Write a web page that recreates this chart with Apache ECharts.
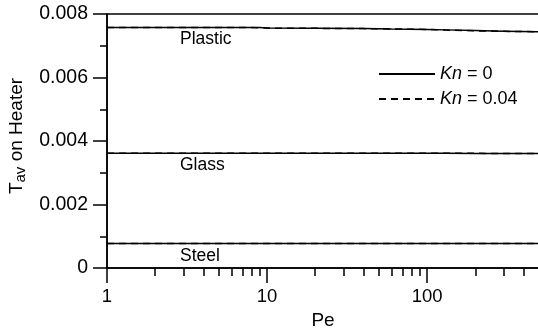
<!DOCTYPE html>
<html>
<head>
<meta charset="utf-8">
<script src="https://cdn.jsdelivr.net/npm/echarts@6/dist/echarts.min.js"></script>
<style>html,body{margin:0;padding:0;background:#fff}#c{width:538px;height:331px}</style>
</head>
<body>
<div id="c"></div>
<script>
const peValues = [1, 2, 5, 9, 10, 20, 40, 60, 100, 130, 200, 300, 500];
const plasticKn0 = [0.007577, 0.007577, 0.007577, 0.007575, 0.00756, 0.00755, 0.00754, 0.007525, 0.00751, 0.0075, 0.00748, 0.00746, 0.00744];
const plasticKn004 = [0.007577, 0.007577, 0.007577, 0.00757, 0.007556, 0.007548, 0.00754, 0.00753, 0.007515, 0.007495, 0.00747, 0.007455, 0.00744];
const glassKn0 = [0.003612, 0.003612, 0.003612, 0.003612, 0.003612, 0.003612, 0.003612, 0.003612, 0.003612, 0.003612, 0.003605, 0.003605, 0.003605];
const glassKn004 = [0.003612, 0.003612, 0.003612, 0.003612, 0.003612, 0.003612, 0.003612, 0.003612, 0.003612, 0.003612, 0.003612, 0.003605, 0.003605];
const steelKn0 = [0.00077, 0.00077, 0.00077, 0.00077, 0.00077, 0.00077, 0.00077, 0.00077, 0.00077, 0.00077, 0.00077, 0.00077, 0.00077];
const steelKn004 = [0.00077, 0.00077, 0.00077, 0.00077, 0.00077, 0.00077, 0.00077, 0.00077, 0.00077, 0.00077, 0.00077, 0.00077, 0.00077];
const xMajorTicks = [1, 10, 100];
const xMinorTicks = [2,3,4,5,6,7,8,9,20,30,40,50,60,70,80,90,200,300,400,500];
const materialLabels = ['Plastic', 'Glass', 'Steel'];

const font = 'Liberation Sans, Arial, sans-serif';
const pair = (ys) => peValues.map((x, i) => [x, ys[i]]);
function mk(name, ys, dashed) {
  return {
    name: name, type: 'line', xAxisIndex: 0, data: pair(ys), symbol: 'none', silent: true,
    z: dashed ? 2 : 3,
    lineStyle: { color: '#000', width: 1.5, type: dashed ? [7, 5] : 'solid' },
    itemStyle: { color: '#000' }
  };
}
const chart = echarts.init(document.getElementById('c'), null, { renderer: 'canvas' });
chart.setOption({
  animation: false,
  backgroundColor: '#fff',
  grid: { left: 107, top: 14, width: 432, height: 254, show: true, borderColor: '#000', borderWidth: 1.5,
    containLabel: false, outerBoundsMode: 'none' },
  xAxis: [{
    type: 'log', logBase: 10, min: 1, max: 500, position: 'bottom',
    name: 'Pe', nameLocation: 'middle', nameGap: 43,
    nameTextStyle: { fontFamily: font, fontSize: 19, color: '#000' },
    axisLine: { show: true, onZero: false, lineStyle: { color: '#000', width: 1.5 } },
    axisTick: { show: true, inside: false, length: 15, customValues: xMajorTicks, lineStyle: { color: '#000', width: 1.5 } },
    axisLabel: { show: true, customValues: xMajorTicks, margin: 19, fontFamily: font, fontSize: 18.5, color: '#000' },
    splitLine: { show: false }, minorTick: { show: false }
  }, {
    type: 'log', logBase: 10, min: 1, max: 500, position: 'bottom',
    axisLine: { show: false, onZero: false },
    axisTick: { show: true, inside: false, length: 8, customValues: xMinorTicks, lineStyle: { color: '#000', width: 1.5 } },
    axisLabel: { show: false }, splitLine: { show: false }
  }],
  yAxis: {
    type: 'value', min: 0, max: 0.008, interval: 0.002,
    name: '{t|T}{s|av}{t| on Heater}', nameLocation: 'middle', nameGap: 77, nameRotate: 90,
    nameTextStyle: { fontFamily: font, color: '#000', padding: [0, 0, 0, 10],
      rich: { t: { fontFamily: font, fontSize: 19, color: '#000' }, s: { fontFamily: font, fontSize: 15, color: '#000', verticalAlign: 'bottom', padding: [9, 0, 0, 0] } } },
    axisLine: { show: true, lineStyle: { color: '#000', width: 1.5 } },
    axisTick: { show: true, inside: false, length: 14, lineStyle: { color: '#000', width: 1.5 } },
    minorTick: { show: true, splitNumber: 2, length: 7, lineStyle: { color: '#000', width: 1.5 } },
    axisLabel: { margin: 19, fontFamily: font, fontSize: 19.5, color: '#000',
      formatter: v => v === 0 ? '0' : v.toFixed(3) },
    splitLine: { show: false }
  },
  legend: {
    orient: 'vertical', left: 373, top: 60, itemWidth: 56, itemHeight: 10, itemGap: 7,
    data: ['Kn = 0', 'Kn = 0.04'],
    formatter: n => n.replace('Kn', '{i|Kn}'),
    itemStyle: { opacity: 0 },
    textStyle: { fontFamily: font, fontSize: 18, color: '#000', padding: [0, 0, 0, 0],
      rich: { i: { fontFamily: font, fontSize: 18, fontStyle: 'italic', color: '#000' } } },
    selectedMode: false
  },
  graphic: [
    { type: 'text', left: 180, top: 30, style: { text: materialLabels[0], font: '17.5px ' + font, fill: '#000' } },
    { type: 'text', left: 180, top: 156, style: { text: materialLabels[1], font: '17.5px ' + font, fill: '#000' } },
    { type: 'text', left: 180, top: 247, style: { text: materialLabels[2], font: '17.5px ' + font, fill: '#000' } }
  ],
  series: [
    mk('Kn = 0', plasticKn0, false), mk('Kn = 0.04', plasticKn004, true),
    mk('Kn = 0', glassKn0, false), mk('Kn = 0.04', glassKn004, true),
    mk('Kn = 0', steelKn0, false), mk('Kn = 0.04', steelKn004, true)
  ]
});
</script>
</body>
</html>
